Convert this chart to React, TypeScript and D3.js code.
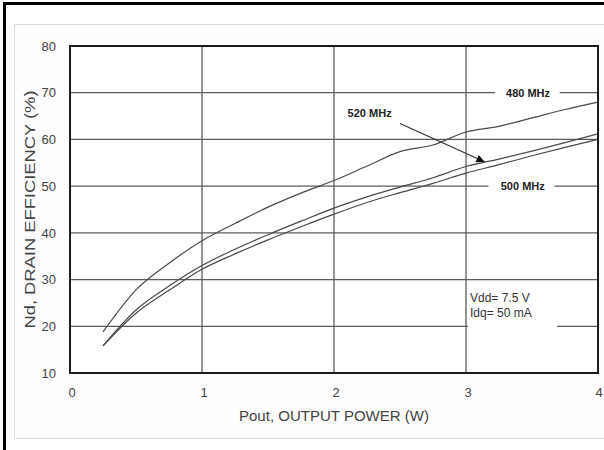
import React, { useEffect, useRef } from 'react';
import * as d3 from 'd3';

// Pout (W) sample points
const power = [0.25, 0.5, 0.75, 1, 1.25, 1.5, 1.75, 2, 2.25, 2.5, 2.75, 3, 3.25, 3.5, 3.75, 4];
// drain efficiency (%) per frequency
const eff480 = [18.8, 27.8, 33.5, 38.3, 42.0, 45.5, 48.5, 51.2, 54.3, 57.4, 58.8, 61.6, 62.8, 64.6, 66.4, 68.0];
const eff520 = [15.8, 23.5, 28.6, 33.0, 36.5, 39.6, 42.5, 45.3, 47.7, 49.8, 51.8, 54.2, 55.8, 57.5, 59.3, 61.2];
const eff500 = [15.8, 22.8, 27.7, 32.2, 35.5, 38.5, 41.3, 44.0, 46.5, 48.6, 50.6, 52.8, 54.6, 56.5, 58.3, 60.0];

const xTicks = [0, 1, 2, 3, 4];
const yTicks = [10, 20, 30, 40, 50, 60, 70, 80];

// text placed on the chart, in data units
const curveLabels = [
  { text: '480 MHz', p: 3.47, v: 70 },
  { text: '500 MHz', p: 3.43, v: 50 },
  { text: '520 MHz', p: 2.27, v: 65.6 },
];
const noteLines = ['Vdd= 7.5 V', 'Idq= 50 mA'];
// gridlines are broken where the labels sit
const gridGaps = [
  { v: 70, from: 3.22, to: 3.71 },
  { v: 50, from: 3.17, to: 3.67 },
  { v: 20, from: 3.015, to: 3.69 },
];

export default function App() {
  const ref = useRef<SVGSVGElement>(null);

  useEffect(() => {
    const svgWidth = 604, svgHeight = 450;
    const margin = { top: 46, right: 6, bottom: 77, left: 70 };
    const width = svgWidth - margin.left - margin.right;
    const height = svgHeight - margin.top - margin.bottom;

    d3.select(ref.current).selectAll('*').remove();
    const root = d3.select(ref.current)
      .attr('width', svgWidth)
      .attr('height', svgHeight);

    // outer frame and panel
    root.append('rect')
      .attr('x', 14.5).attr('y', 24.5)
      .attr('width', 600).attr('height', 414)
      .attr('fill', '#fdfdfd').attr('stroke', '#dcdcdc');
    root.append('line').attr('x1', 4.5).attr('x2', 4.5).attr('y1', 2).attr('y2', 450)
      .attr('stroke', '#000').attr('stroke-width', 3);
    root.append('line').attr('x1', 3).attr('x2', 604).attr('y1', 3.5).attr('y2', 3.5)
      .attr('stroke', '#000').attr('stroke-width', 3);

    const svg = root.append('g')
      .attr('transform', `translate(${margin.left},${margin.top})`);

    const x = d3.scaleLinear().domain([0, 4]).range([0, width]);
    const y = d3.scaleLinear().domain([10, 80]).range([height, 0]);

    // plot background
    svg.append('rect').attr('width', width).attr('height', height).attr('fill', '#fff');

    // horizontal gridlines (with gaps)
    yTicks.forEach(t => {
      const gap = gridGaps.find(g => g.v === t);
      const segs = gap ? [[0, gap.from], [gap.to, 4]] : [[0, 4]];
      segs.forEach(([a, b]) => {
        svg.append('line')
          .attr('x1', x(a)).attr('x2', x(b))
          .attr('y1', y(t)).attr('y2', y(t))
          .attr('stroke', '#5c5c5c').attr('stroke-width', 1.3);
      });
    });
    // vertical gridlines
    xTicks.forEach(t => {
      svg.append('line')
        .attr('x1', x(t)).attr('x2', x(t))
        .attr('y1', 0).attr('y2', height)
        .attr('stroke', '#5c5c5c').attr('stroke-width', 1.3);
    });

    // curves
    const line = d3.line<number>()
      .x((_, i) => x(power[i]))
      .y(d => y(d))
      .curve(d3.curveMonotoneX);
    [eff480, eff520, eff500].forEach(s => {
      svg.append('path')
        .datum(s)
        .attr('fill', 'none')
        .attr('stroke', '#4a4a4a')
        .attr('stroke-width', 1.2)
        .attr('d', line);
    });

    // border
    svg.append('rect').attr('width', width).attr('height', height)
      .attr('fill', 'none').attr('stroke', '#1c1c1c').attr('stroke-width', 2);

    // axes tick labels
    svg.append('g')
      .selectAll('text')
      .data(yTicks)
      .join('text')
      .attr('x', -14)
      .attr('y', d => y(d))
      .attr('dy', '0.36em')
      .attr('text-anchor', 'end')
      .attr('font-family', 'Liberation Sans, Arial, sans-serif')
      .attr('font-size', 13)
      .attr('fill', '#444')
      .text(d => d);

    svg.append('g')
      .selectAll('text')
      .data(xTicks)
      .join('text')
      .attr('x', d => x(d) + (d === 4 ? 1 : 2))
      .attr('y', height + 24)
      .attr('text-anchor', 'middle')
      .attr('font-family', 'Liberation Sans, Arial, sans-serif')
      .attr('font-size', 13)
      .attr('fill', '#444')
      .text(d => d);

    // axis titles
    svg.append('text')
      .attr('x', x(2))
      .attr('y', height + 48)
      .attr('text-anchor', 'middle')
      .attr('font-family', 'Liberation Sans, Arial, sans-serif')
      .attr('font-size', 14)
      .attr('fill', '#444')
      .attr('textLength', 190)
      .attr('lengthAdjust', 'spacingAndGlyphs')
      .text('Pout, OUTPUT POWER (W)');

    svg.append('text')
      .attr('transform', `translate(-35,${height / 2}) rotate(-90)`)
      .attr('text-anchor', 'middle')
      .attr('font-family', 'Liberation Sans, Arial, sans-serif')
      .attr('font-size', 14)
      .attr('fill', '#444')
      .attr('textLength', 238)
      .attr('lengthAdjust', 'spacingAndGlyphs')
      .text('Nd, DRAIN EFFICIENCY (%)');

    // curve labels
    curveLabels.forEach(l => {
      svg.append('text')
        .attr('x', x(l.p))
        .attr('y', y(l.v))
        .attr('dy', '0.35em')
        .attr('text-anchor', 'middle')
        .attr('font-family', 'Liberation Sans, Arial, sans-serif')
        .attr('font-size', 11)
        .attr('font-weight', 'bold')
        .attr('fill', '#222')
        .text(l.text);
    });

    // arrow from 520 MHz label to its curve
    svg.append('defs').append('marker')
      .attr('id', 'arrowhead')
      .attr('viewBox', '0 0 10 10')
      .attr('refX', 10).attr('refY', 5)
      .attr('markerWidth', 14).attr('markerHeight', 8)
      .attr('markerUnits', 'userSpaceOnUse')
      .attr('orient', 'auto')
      .append('path')
      .attr('d', 'M0,0 L10,5 L0,10 Z')
      .attr('fill', '#111');
    svg.append('line')
      .attr('x1', x(2.5)).attr('y1', y(63.4))
      .attr('x2', x(3.14)).attr('y2', y(55.2))
      .attr('stroke', '#333').attr('stroke-width', 1.1)
      .attr('marker-end', 'url(#arrowhead)');

    // operating conditions note
    noteLines.forEach((t, i) => {
      svg.append('text')
        .attr('x', x(3.03))
        .attr('y', y(26.1) + i * 15.5)
        .attr('dy', '0.35em')
        .attr('font-family', 'Liberation Sans, Arial, sans-serif')
        .attr('font-size', 12)
        .attr('fill', '#333')
        .text(t);
    });
  }, []);

  return (
    <svg ref={ref} style={{ position: 'absolute', left: 0, top: 0, background: '#fff' }} />
  );
}
